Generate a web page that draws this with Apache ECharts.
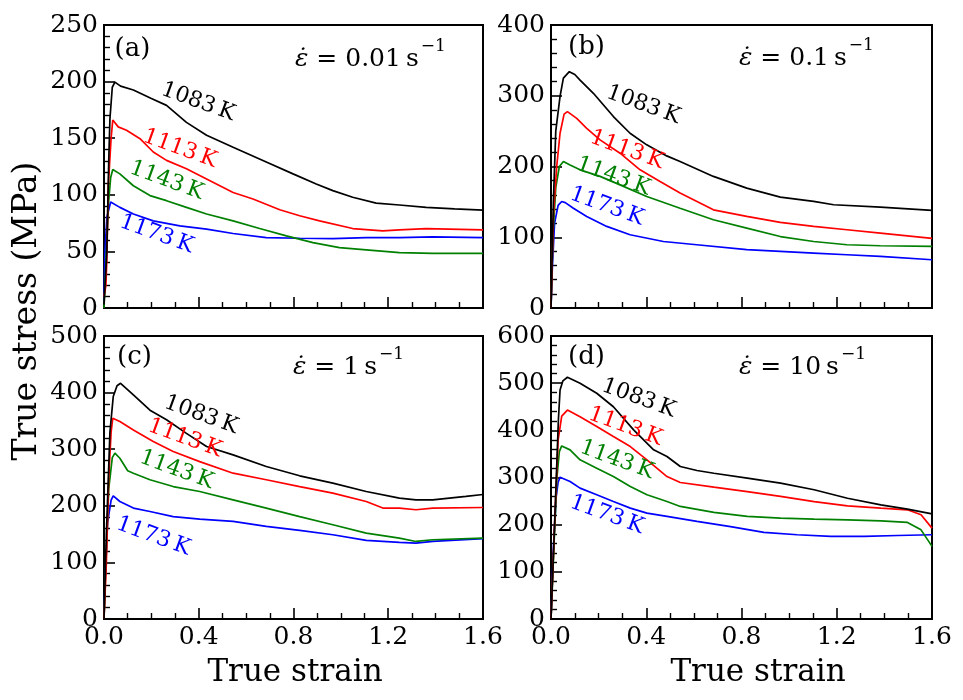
<!DOCTYPE html>
<html>
<head>
<meta charset="utf-8">
<script src="https://cdn.jsdelivr.net/npm/echarts@6/dist/echarts.min.js"></script>
<style>
  html, body { margin: 0; padding: 0; background: #fff; }
  #chart { width: 963px; height: 700px; }
</style>
</head>
<body>
<div id="chart"></div>
<script>
// ---------------- data ----------------
const temperatures = ['1083\u2009K', '1113\u2009K', '1143\u2009K', '1173\u2009K'];
const panelTags = ['(a)', '(b)', '(c)', '(d)'];
const rateValues = ['0.01', '0.1', '1', '10'];
const xTicks = [0, 0.4, 0.8, 1.2, 1.6];
const yMax = [250, 400, 500, 600];
const yStep = [50, 100, 100, 100];

// (a) strain rate 0.01 s^-1  — [true strain, true stress MPa]
const a1083 = [[0,3],[0.012,50],[0.02,130],[0.025,167],[0.035,195],[0.046,199.5],[0.07,196],[0.124,192.6],[0.2,185],[0.264,179],[0.348,164],[0.433,152.6],[0.545,142],[0.685,129],[0.798,118.5],[0.896,109.6],[0.966,103.7],[1.05,97.8],[1.149,92.7],[1.247,91],[1.36,88.9],[1.48,87.5],[1.6,86.5]];
const a1113 = [[0,10],[0.008,20],[0.012,43],[0.018,108],[0.03,150],[0.037,166],[0.06,160],[0.095,157],[0.152,149.6],[0.208,137.8],[0.264,130.4],[0.348,123],[0.433,114],[0.545,102],[0.629,96.3],[0.742,86.8],[0.826,81.5],[0.91,77],[1.05,70.2],[1.177,68.1],[1.247,69],[1.36,70.2],[1.6,69]];
const a1143 = [[0,0],[0.01,49],[0.018,90],[0.028,115],[0.037,122.4],[0.067,118.5],[0.124,108],[0.194,99.3],[0.264,94.8],[0.348,88.9],[0.433,83],[0.545,77],[0.657,70.2],[0.77,63.7],[0.882,57.8],[0.994,53.3],[1.107,51.3],[1.247,48.9],[1.388,48.3],[1.6,48.3]];
const a1173 = [[0,5],[0.004,49],[0.012,80],[0.028,93.6],[0.067,88.9],[0.124,83],[0.208,77],[0.32,72.6],[0.433,69.6],[0.545,65.8],[0.685,62.2],[0.826,61.6],[0.966,61.3],[1.107,62.2],[1.247,62.2],[1.388,62.8],[1.6,62.2]];

// (b) strain rate 0.1 s^-1
const b1083 = [[0,0],[0.01,150],[0.02,250],[0.038,299],[0.052,325],[0.077,334],[0.1,330],[0.122,322],[0.178,303.5],[0.262,270.6],[0.332,247],[0.402,230.6],[0.486,215],[0.542,207],[0.682,186],[0.822,169.4],[0.963,156.7],[1.103,150.6],[1.187,145.9],[1.383,142.6],[1.6,137.9]];
const b1113 = [[0,0],[0.01,130],[0.024,200],[0.038,247],[0.055,274],[0.069,277.6],[0.108,268],[0.15,254],[0.206,237.6],[0.29,218.8],[0.374,195.3],[0.458,178.8],[0.542,162.4],[0.682,138.8],[0.822,129.4],[0.963,121],[1.103,115.3],[1.243,110.6],[1.383,105.9],[1.6,98.4]];
const b1143 = [[0,0],[0.008,100],[0.02,170],[0.035,200],[0.052,207],[0.08,202],[0.122,195.3],[0.206,186],[0.29,174],[0.402,157.6],[0.542,141],[0.682,124.7],[0.822,113],[0.963,101],[1.103,94],[1.243,89.4],[1.383,88],[1.6,87]];
const b1173 = [[0,0],[0.006,60],[0.015,120],[0.03,145],[0.045,150.6],[0.06,149],[0.094,141],[0.15,129.4],[0.234,115.3],[0.332,103.5],[0.472,94],[0.612,89.4],[0.822,82.4],[1.103,77.6],[1.243,75.3],[1.383,73],[1.6,68.2]];

// (c) strain rate 1 s^-1
const c1083 = [[0,0],[0.01,150],[0.025,330],[0.039,393],[0.055,412],[0.07,416.5],[0.124,396],[0.194,369],[0.264,352],[0.348,328],[0.433,304.7],[0.545,290],[0.685,269.4],[0.826,253],[0.966,240],[1.107,225.3],[1.247,213.5],[1.317,210.6],[1.388,210.6],[1.528,216.5],[1.6,220]];
const c1113 = [[0,0],[0.01,100],[0.02,250],[0.03,330],[0.037,354.7],[0.067,348.8],[0.124,334],[0.208,313.5],[0.292,296],[0.404,278],[0.545,257.6],[0.685,246],[0.826,234],[0.966,222.4],[1.107,207.6],[1.177,196],[1.247,196],[1.317,193],[1.388,196],[1.6,197]];
const c1143 = [[0,0],[0.01,120],[0.02,230],[0.035,285],[0.046,293],[0.067,284],[0.1,262],[0.124,257.6],[0.194,246],[0.292,234],[0.404,225.3],[0.545,210.6],[0.685,196],[0.826,181],[0.966,166.5],[1.107,151.8],[1.247,143],[1.317,137],[1.388,140],[1.6,143]];
const c1173 = [[0,10],[0.006,80],[0.015,170],[0.03,210],[0.039,217.6],[0.067,207.6],[0.124,196],[0.194,190],[0.292,181],[0.404,176.5],[0.545,172.4],[0.685,163.5],[0.826,156.5],[0.966,148.8],[1.107,138.8],[1.247,135.3],[1.317,134],[1.388,137],[1.6,142]];

// (d) strain rate 10 s^-1
const d1083 = [[0,0],[0.015,200],[0.031,422],[0.038,485.6],[0.05,505],[0.069,512.5],[0.122,500],[0.192,478.6],[0.262,450],[0.347,401],[0.431,358.6],[0.487,344.5],[0.543,323.3],[0.613,314.8],[0.684,309],[0.824,298.6],[0.964,288],[1.105,274],[1.245,256],[1.385,242],[1.497,233],[1.6,223]];
const d1113 = [[0,0],[0.015,200],[0.03,380],[0.045,430],[0.069,443],[0.122,429],[0.192,408],[0.262,386.8],[0.333,365.6],[0.403,337.4],[0.487,302],[0.543,289.4],[0.684,279.5],[0.824,270],[0.964,259.8],[1.105,249],[1.245,240],[1.385,235],[1.497,231.5],[1.554,221],[1.6,192.7]];
const d1143 = [[0,0],[0.012,150],[0.025,300],[0.035,355],[0.045,367],[0.08,358.6],[0.122,337.4],[0.192,319.8],[0.262,302],[0.333,281],[0.403,263.3],[0.487,249],[0.543,238.6],[0.684,226],[0.824,217.4],[0.964,214],[1.105,211.8],[1.245,210],[1.385,208],[1.497,204.7],[1.554,189],[1.6,154]];
const d1173 = [[0,0],[0.01,150],[0.022,260],[0.03,290],[0.038,300.7],[0.08,291.5],[0.122,277.4],[0.192,263.3],[0.262,249],[0.333,235],[0.403,224.5],[0.487,217.4],[0.613,206.8],[0.754,196],[0.894,183.5],[1.034,178.6],[1.175,175],[1.315,175],[1.455,177],[1.6,178.6]];

const panelData = [
  [a1083, a1113, a1143, a1173],
  [b1083, b1113, b1143, b1173],
  [c1083, c1113, c1143, c1173],
  [d1083, d1113, d1143, d1173]
];

// ---------------- layout / style ----------------
const FONT = '"DejaVu Serif", "Liberation Serif", serif';
const colors = ['#000000', '#ff0000', '#008000', '#0000ff'];
const grids = [
  { left: 104, top: 25, width: 379, height: 283 },
  { left: 551, top: 25, width: 381, height: 283 },
  { left: 104, top: 336, width: 379, height: 283 },
  { left: 551, top: 336, width: 381, height: 283 }
];
// label anchor (centre) positions in data units for temperature labels
const labelAt = [
  [[0.397, 182], [0.32, 140.7], [0.264, 112.6], [0.222, 65.2]],
  [[0.388, 287], [0.318, 223.5], [0.262, 186], [0.234, 143.5]],
  [[0.41, 360.6], [0.341, 319.4], [0.306, 263.5], [0.208, 146]],
  [[0.368, 468], [0.312, 408], [0.276, 337.4], [0.234, 221]]
];
const tagOffset = [[28.5, 24.5], [35.5, 22.5], [30.5, 21.5], [35.5, 21.5]];
const rateOffset = [[191, 34], [188, 33], [189, 31], [188, 31]];

const chart = echarts.init(document.getElementById('chart'), null, { renderer: 'canvas' });

const option = {
  animation: false,
  backgroundColor: '#ffffff',
  grid: grids.map(g => Object.assign({ show: true, borderColor: '#000', borderWidth: 2, backgroundColor: 'transparent' }, g)),
  xAxis: grids.map((g, i) => ({
    type: 'value', gridIndex: i, min: xTicks[0], max: xTicks[xTicks.length - 1], interval: 0.4,
    axisLine: { show: true, lineStyle: { color: '#000', width: 2 } },
    axisTick: { show: true, inside: true, length: 11, lineStyle: { color: '#000', width: 1.6 } },
    minorTick: { show: true, splitNumber: 4, length: 6, lineStyle: { color: '#000', width: 1.4 } },
    splitLine: { show: false },
    axisLabel: {
      show: i >= 2, margin: 6, color: '#000', fontFamily: FONT, fontSize: 25,
      showMinLabel: true, showMaxLabel: true,
      formatter: v => v.toFixed(1)
    }
  })),
  yAxis: grids.map((g, i) => ({
    type: 'value', gridIndex: i, min: 0, max: yMax[i], interval: yStep[i],
    axisLine: { show: true, lineStyle: { color: '#000', width: 2 } },
    axisTick: { show: true, inside: true, length: 11, lineStyle: { color: '#000', width: 1.6 } },
    minorTick: { show: true, splitNumber: 5, length: 6, lineStyle: { color: '#000', width: 1.4 } },
    splitLine: { show: false },
    axisLabel: { show: true, margin: 6, color: '#000', fontFamily: FONT, fontSize: 25, showMinLabel: true, showMaxLabel: true }
  })),
  series: []
};

panelData.forEach((curves, p) => {
  curves.forEach((d, k) => {
    option.series.push({
      type: 'line', name: temperatures[k] + ' ' + panelTags[p],
      xAxisIndex: p, yAxisIndex: p, data: d,
      showSymbol: false, symbol: 'none', smooth: false, clip: true,
      lineStyle: { color: colors[k], width: 1.7 },
      itemStyle: { color: colors[k] },
      z: 5 - k
    });
  });
});

chart.setOption(option);

// ---------------- annotations ----------------
const mctx = document.createElement('canvas').getContext('2d');
function textWidth(t, size, style) { mctx.font = (style || '') + ' ' + size + 'px ' + FONT; return mctx.measureText(t).width; }

const graphics = [];
panelData.forEach((curves, p) => {
  const g = grids[p];
  // temperature labels
  labelAt[p].forEach((pos, k) => {
    const px = chart.convertToPixel({ gridIndex: p }, pos);
    graphics.push({
      type: 'text', x: px[0], y: px[1], rotation: -20 * Math.PI / 180, z: 10,
      style: { text: temperatures[k], fill: colors[k], font: '22px ' + FONT, align: 'center', verticalAlign: 'middle' }
    });
  });
  // panel tag
  graphics.push({
    type: 'text', x: g.left + tagOffset[p][0], y: g.top + tagOffset[p][1], z: 10,
    style: { text: panelTags[p], fill: '#000', font: '26px ' + FONT, align: 'center', verticalAlign: 'middle' }
  });
  // strain-rate label: italic epsilon with dot, then value
  const lx = g.left + rateOffset[p][0];
  const ly = g.top + rateOffset[p][1];
  const epsText = '\u03B5\u0307';
  const restText = ' = ' + rateValues[p] + '\u2009s';
  graphics.push({
    type: 'text', x: lx, y: ly, z: 10,
    style: { text: epsText, fill: '#000', font: 'italic 25px ' + FONT, align: 'left', verticalAlign: 'middle' }
  });
  const we = textWidth(epsText, 25, 'italic');
  graphics.push({
    type: 'text', x: lx + we, y: ly, z: 10,
    style: { text: restText, fill: '#000', font: '25px ' + FONT, align: 'left', verticalAlign: 'middle' }
  });
  const wr = textWidth(restText, 25);
  graphics.push({
    type: 'text', x: lx + we + wr + 2, y: ly - 12, z: 10,
    style: { text: '\u22121', fill: '#000', font: '17px ' + FONT, align: 'left', verticalAlign: 'middle' }
  });
});

// axis titles
graphics.push({
  type: 'text', x: 27, y: 311, rotation: Math.PI / 2, z: 10,
  style: { text: 'True stress (MPa)', fill: '#000', font: '33px ' + FONT, align: 'center', verticalAlign: 'middle' }
});
graphics.push({
  type: 'text', x: 295, y: 673, z: 10,
  style: { text: 'True strain', fill: '#000', font: '31px ' + FONT, align: 'center', verticalAlign: 'middle' }
});
graphics.push({
  type: 'text', x: 758, y: 673, z: 10,
  style: { text: 'True strain', fill: '#000', font: '31px ' + FONT, align: 'center', verticalAlign: 'middle' }
});

chart.setOption({ graphic: graphics });
</script>
</body>
</html>
